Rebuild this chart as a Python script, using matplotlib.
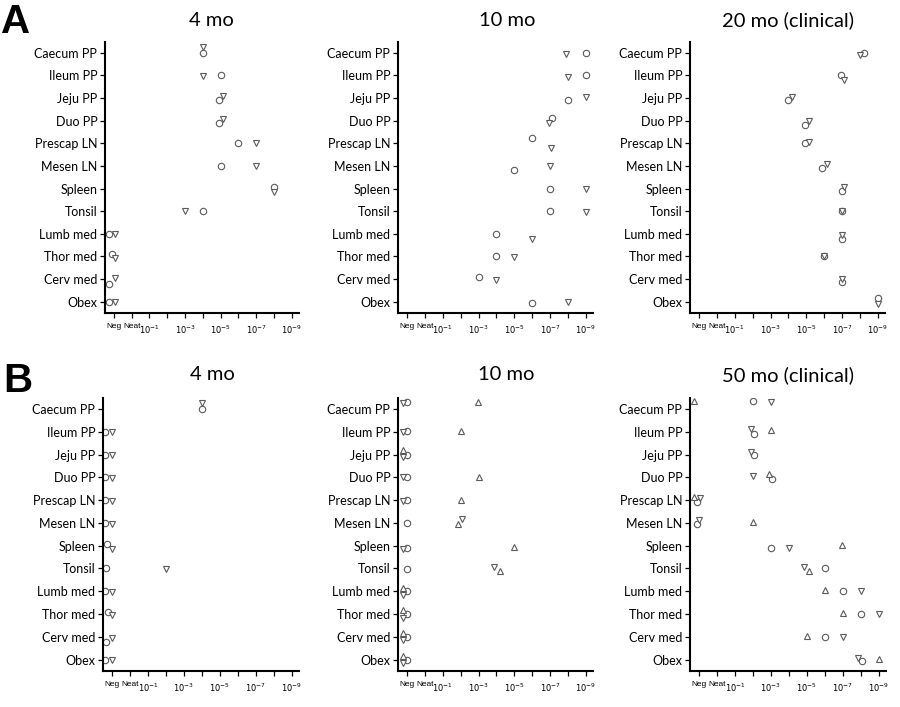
import numpy as np
import matplotlib
matplotlib.use("Agg")
import matplotlib.pyplot as plt
from matplotlib.transforms import ScaledTranslation

nan = np.nan

tissues = ["Caecum PP", "Ileum PP", "Jeju PP", "Duo PP", "Prescap LN", "Mesen LN",
           "Spleen", "Tonsil", "Lumb med", "Thor med", "Cerv med", "Obex"]

# x: 0 = Neg, 1 = Neat, k+1 = 10^-k dilution
tick_pos = list(range(11))
tick_labels = ["Neg", "Neat", r"$10^{-1}$", "", r"$10^{-3}$", "", r"$10^{-5}$", "",
               r"$10^{-7}$", "", r"$10^{-9}$"]

titles = ["4 mo", "10 mo", "20 mo (clinical)", "4 mo", "10 mo", "50 mo (clinical)"]

# ---- Panel A, 4 mo ----
a1_circ_x = [5, 6, 5.9, 5.9, 7, 6, 9, 5, -0.28, -0.13, -0.28, -0.28]
a1_circ_dy = [0, 0, 0.07, 0.09, 0, 0, -0.09, 0, 0, -0.09, 0.22, 0]
a1_down_x = [5, 5, 6.15, 6.15, 8, 8, 9, 4, 0.04, 0.04, 0.04, 0.04]
a1_down_dy = [-0.26, 0.03, -0.08, -0.07, 0, 0, 0.13, 0, 0, 0.06, -0.03, 0]

# ---- Panel A, 10 mo ----
a2_circ_x = [10, 10, 9, 8.12, 7, 6, 8, 8, 5, 5, 4, 7]
a2_circ_dy = [0, 0, 0.07, -0.1, -0.22, 0.19, 0, 0, 0, 0, -0.09, 0.06]
a2_down_x = [8.87, 9, 10, 7.93, 8.03, 8, 10, 10, 7, 6, 5, 9]
a2_down_dy = [0.03, 0.06, -0.07, 0.12, 0.22, 0, 0.03, 0.03, 0.22, 0.03, 0.06, 0]

# ---- Panel A, 20 mo ----
a3_circ_x = [9.23, 7.93, 4.95, 5.93, 5.93, 6.9, 7.98, 8, 8, 7, 8, 10]
a3_circ_dy = [0, 0, 0.07, 0.19, -0.03, 0.07, 0.1, 0, 0.22, 0, 0.15, -0.16]
a3_down_x = [9.0, 8.12, 5.18, 6.15, 6.15, 7.15, 8.1, 8, 8, 7, 8, 10]
a3_down_dy = [0.1, 0.2, -0.07, 0.01, -0.07, -0.07, -0.06, 0, 0.03, 0, 0, 0.1]

# ---- Panel B, 4 mo ----
b1_circ_x = [5, -0.38, -0.38, -0.38, -0.38, -0.38, -0.3, -0.33, -0.38, -0.2, -0.33, -0.38]
b1_circ_dy = [0, 0, 0, 0, 0, 0, -0.07, 0, 0, -0.09, 0.21, 0]
b1_down_x = [5, 0, 0, 0, 0, 0, 0, 3, 0, 0, 0, 0]
b1_down_dy = [-0.25, 0.03, 0.03, 0.03, 0.03, 0.03, 0.15, 0.03, 0.03, 0.03, 0.03, 0.03]

# ---- Panel B, 10 mo ----
b2_circ_x = [0, 0, 0, 0, 0, 0, 0, 0, 0, 0, 0, 0]
b2_circ_dy = [-0.3, -0.02, 0, -0.03, -0.02, 0, 0.1, 0.02, 0, 0, 0, 0]
b2_down_x = [-0.2, -0.22, -0.22, -0.2, -0.22, 3.1, -0.22, 4.84, -0.22, -0.22, -0.22, -0.22]
b2_down_dy = [-0.27, 0.03, 0.09, 0, 0.04, -0.19, 0.13, -0.07, 0.16, 0.16, 0.16, 0.16]
b2_up_x = [3.98, 3.0, -0.24, 4.0, 3.0, 2.87, 6.0, 5.2, -0.24, -0.24, -0.24, -0.24]
b2_up_dy = [-0.3, -0.02, -0.18, -0.03, 0, 0.07, 0.08, 0.1, -0.16, -0.16, -0.16, -0.16]

# ---- Panel B, 50 mo ----
b3_circ_x = [3.0, 3.06, 3.06, 4.06, -0.1, -0.13, 4.0, 7.0, 8.0, 9.0, 7.0, 9.06]
b3_circ_dy = [-0.33, 0.09, 0.04, 0.07, 0.1, 0.07, 0.09, 0, 0, 0, 0, 0.07]
b3_down_x = [4.0, 2.87, 2.87, 3.0, 0.05, 0.0, 5.0, 5.85, 9.0, 10.0, 8.0, 8.87]
b3_down_dy = [-0.3, -0.1, -0.1, -0.04, -0.07, -0.12, 0.12, -0.07, 0, 0, 0, -0.07]
b3_up_x = [-0.27, 4.0, nan, 3.87, -0.3, 3.0, 7.96, 6.1, 7.0, 8.0, 6.0, 10.0]
b3_up_dy = [-0.33, -0.06, 0, -0.15, -0.15, -0.04, -0.03, 0.1, -0.04, -0.03, -0.04, -0.04]

panels = [
    [(a1_circ_x, a1_circ_dy, "o"), (a1_down_x, a1_down_dy, "v")],
    [(a2_circ_x, a2_circ_dy, "o"), (a2_down_x, a2_down_dy, "v")],
    [(a3_circ_x, a3_circ_dy, "o"), (a3_down_x, a3_down_dy, "v")],
    [(b1_circ_x, b1_circ_dy, "o"), (b1_down_x, b1_down_dy, "v")],
    [(b2_circ_x, b2_circ_dy, "o"), (b2_down_x, b2_down_dy, "v"), (b2_up_x, b2_up_dy, "^")],
    [(b3_circ_x, b3_circ_dy, "o"), (b3_down_x, b3_down_dy, "v"), (b3_up_x, b3_up_dy, "^")],
]

W, H = 900, 707
fig = plt.figure(figsize=(W / 100, H / 100), dpi=100)

# axes boxes in pixels: left, right, top, bottom
boxes = [(105, 299, 42, 313), (398, 593, 42, 313), (690, 885, 42, 313),
         (103, 299, 398, 671), (398, 593, 398, 671), (690, 886, 398, 671)]
title_pos = [(211, 20), (507, 20), (788, 20), (212, 375), (506, 375), (788, 375)]

lab_font = "Lato"
yrow = np.arange(len(tissues))
# small horizontal nudges (in px) for the crowded first x labels
label_nudge = {0: -4, 1: -1.5, 2: 1.5}

for i, (series, box, title, tp) in enumerate(zip(panels, boxes, titles, title_pos)):
    l, r, t, b = box
    ax = fig.add_axes([l / W, 1 - b / H, (r - l) / W, (b - t) / H])
    for xs, dys, mk in series:
        xs = np.asarray(xs, float)
        ys = yrow + np.asarray(dys, float)
        ax.plot(xs, ys, linestyle="none", marker=mk, markersize=4.6 if mk == "o" else 4.8,
                markerfacecolor="white", markeredgecolor="#5a5a5a", markeredgewidth=0.8)
    ax.set_xlim(-0.5, 10.4)
    ax.set_ylim(11.5, -0.48)
    ax.set_yticks(yrow)
    ax.set_yticklabels(tissues, fontsize=9, family=lab_font)
    ax.set_xticks(tick_pos)
    ax.set_xticklabels(tick_labels, fontsize=6.0, family="Liberation Sans")
    for k, lab in enumerate(ax.get_xticklabels()):
        if k in label_nudge:
            lab.set_transform(lab.get_transform() +
                              ScaledTranslation(label_nudge[k] / 100, 0, fig.dpi_scale_trans))
    for s in ["top", "right"]:
        ax.spines[s].set_visible(False)
    for s in ["left", "bottom"]:
        ax.spines[s].set_linewidth(1.5)
    ax.tick_params(axis="both", direction="out", length=3.5, width=0.9, pad=2)
    ax.tick_params(axis="x", pad=4)
    fig.text(tp[0] / W, 1 - tp[1] / H, title, fontsize=14.5, family=lab_font,
             ha="center", va="center")

fig.text(1 / W, 1 - 33 / H, "A", fontsize=29, fontweight="bold", family="Liberation Sans",
         ha="left", va="baseline")
fig.text(3 / W, 1 - 392 / H, "B", fontsize=29, fontweight="bold", family="Liberation Sans",
         ha="left", va="baseline")

fig.savefig("out.png", dpi=100)
